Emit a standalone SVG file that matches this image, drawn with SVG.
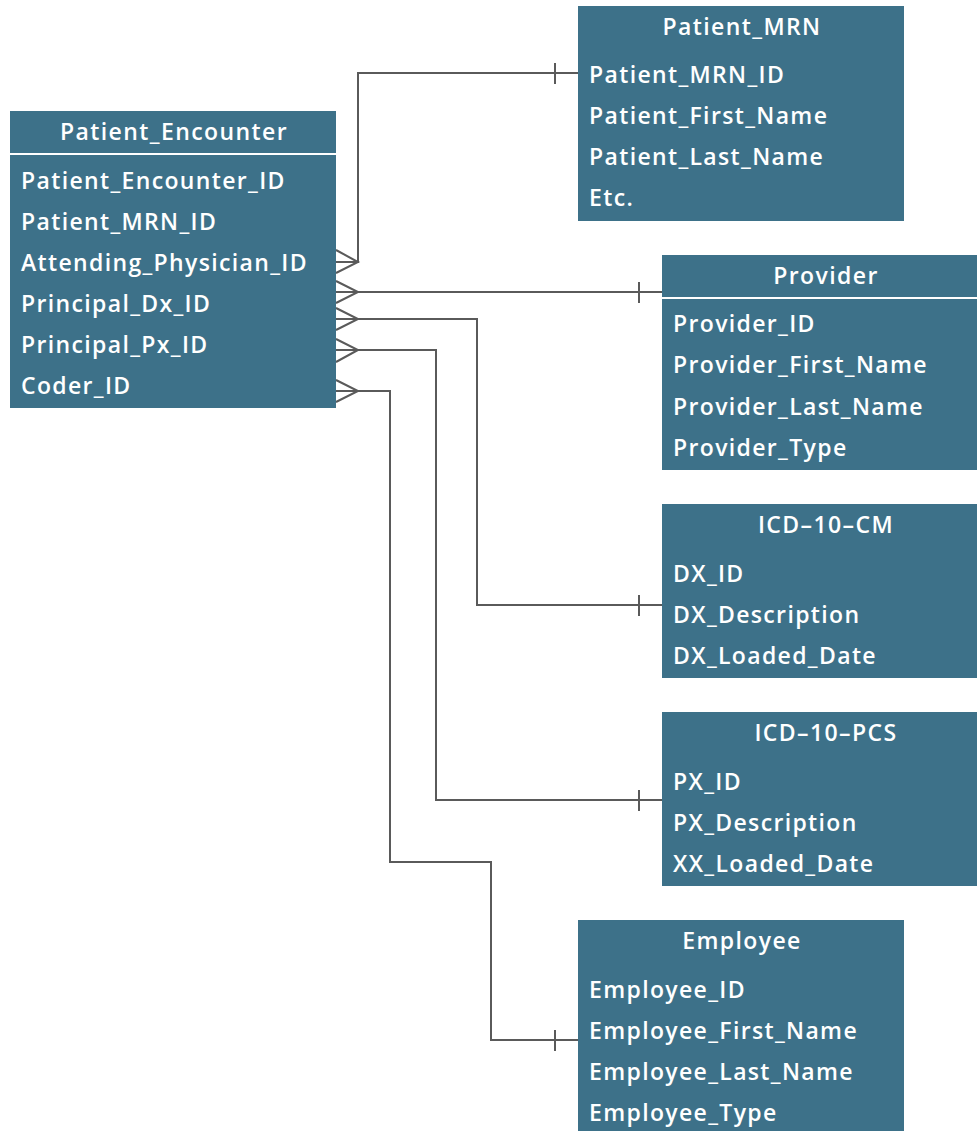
<svg xmlns="http://www.w3.org/2000/svg" width="977" height="1131" viewBox="0 0 977 1131">
  <style>
    .box { fill: #3d7189; }
    .rule { stroke: #ffffff; stroke-width: 2; }
    .title { fill: #ffffff; font-family: "Open Sans", "Liberation Sans", sans-serif; font-size: 23px; font-weight: 600; letter-spacing: 1.4px; text-anchor: middle; }
    .field { fill: #ffffff; font-family: "Open Sans", "Liberation Sans", sans-serif; font-size: 23px; font-weight: 600; letter-spacing: 1.35px; }
    .conn { fill: none; stroke: #5a5a5a; stroke-width: 2; }
  </style>

  <!-- relationship lines: crow's foot (many) on Patient_Encounter, bar (one) on lookup tables -->
  <g id="connectors">
    <!-- Attending_Physician_ID -> Patient_MRN -->
    <path class="conn" d="M336,262 H358 V73 H578"/>
    <path class="conn" d="M336,250 L358,262 L336,273"/>
    <path class="conn" d="M555,63 V84"/>
    <!-- Principal_Dx_ID row -> Provider -->
    <path class="conn" d="M336,292 H662"/>
    <path class="conn" d="M336,281 L358,292 L336,303"/>
    <path class="conn" d="M639,282 V303"/>
    <!-- -> ICD-10-CM -->
    <path class="conn" d="M336,319 H477 V605 H662"/>
    <path class="conn" d="M336,308 L358,319 L336,330"/>
    <path class="conn" d="M639,595 V616"/>
    <!-- -> ICD-10-PCS -->
    <path class="conn" d="M336,350 H436 V800 H662"/>
    <path class="conn" d="M336,339 L358,350 L336,362"/>
    <path class="conn" d="M639,790 V811"/>
    <!-- Coder_ID -> Employee -->
    <path class="conn" d="M336,391 H390 V862 H491 V1040 H578"/>
    <path class="conn" d="M336,380 L358,391 L336,402"/>
    <path class="conn" d="M555,1030 V1051"/>
  </g>

  <g id="patient_encounter">
    <rect class="box" x="10" y="111" width="326" height="297"/>
    <line class="rule" x1="10" y1="154" x2="336" y2="154"/>
    <text class="title" x="174" y="140">Patient_Encounter</text>
    <text class="field" x="21" y="189">Patient_Encounter_ID</text>
    <text class="field" x="21" y="230">Patient_MRN_ID</text>
    <text class="field" x="21" y="271">Attending_Physician_ID</text>
    <text class="field" x="21" y="312">Principal_Dx_ID</text>
    <text class="field" x="21" y="353">Principal_Px_ID</text>
    <text class="field" x="21" y="394">Coder_ID</text>
  </g>

  <g id="patient_mrn">
    <rect class="box" x="578" y="6" width="326" height="215"/>
    <text class="title" x="742" y="35">Patient_MRN</text>
    <text class="field" x="589" y="83">Patient_MRN_ID</text>
    <text class="field" x="589" y="124">Patient_First_Name</text>
    <text class="field" x="589" y="165">Patient_Last_Name</text>
    <text class="field" x="589" y="206">Etc.</text>
  </g>

  <g id="provider">
    <rect class="box" x="662" y="255" width="326" height="215"/>
    <line class="rule" x1="662" y1="298" x2="988" y2="298"/>
    <text class="title" x="826" y="284">Provider</text>
    <text class="field" x="673" y="332">Provider_ID</text>
    <text class="field" x="673" y="373">Provider_First_Name</text>
    <text class="field" x="673" y="415">Provider_Last_Name</text>
    <text class="field" x="673" y="456">Provider_Type</text>
  </g>

  <g id="icd10cm">
    <rect class="box" x="662" y="504" width="326" height="174"/>
    <text class="title" x="826" y="533">ICD–10–CM</text>
    <text class="field" x="673" y="582">DX_ID</text>
    <text class="field" x="673" y="623">DX_Description</text>
    <text class="field" x="673" y="664">DX_Loaded_Date</text>
  </g>

  <g id="icd10pcs">
    <rect class="box" x="662" y="712" width="326" height="174"/>
    <text class="title" x="826" y="741">ICD–10–PCS</text>
    <text class="field" x="673" y="790">PX_ID</text>
    <text class="field" x="673" y="831">PX_Description</text>
    <text class="field" x="673" y="872">XX_Loaded_Date</text>
  </g>

  <g id="employee">
    <rect class="box" x="578" y="920" width="326" height="211"/>
    <text class="title" x="742" y="949">Employee</text>
    <text class="field" x="589" y="998">Employee_ID</text>
    <text class="field" x="589" y="1039">Employee_First_Name</text>
    <text class="field" x="589" y="1080">Employee_Last_Name</text>
    <text class="field" x="589" y="1121">Employee_Type</text>
  </g>
</svg>
